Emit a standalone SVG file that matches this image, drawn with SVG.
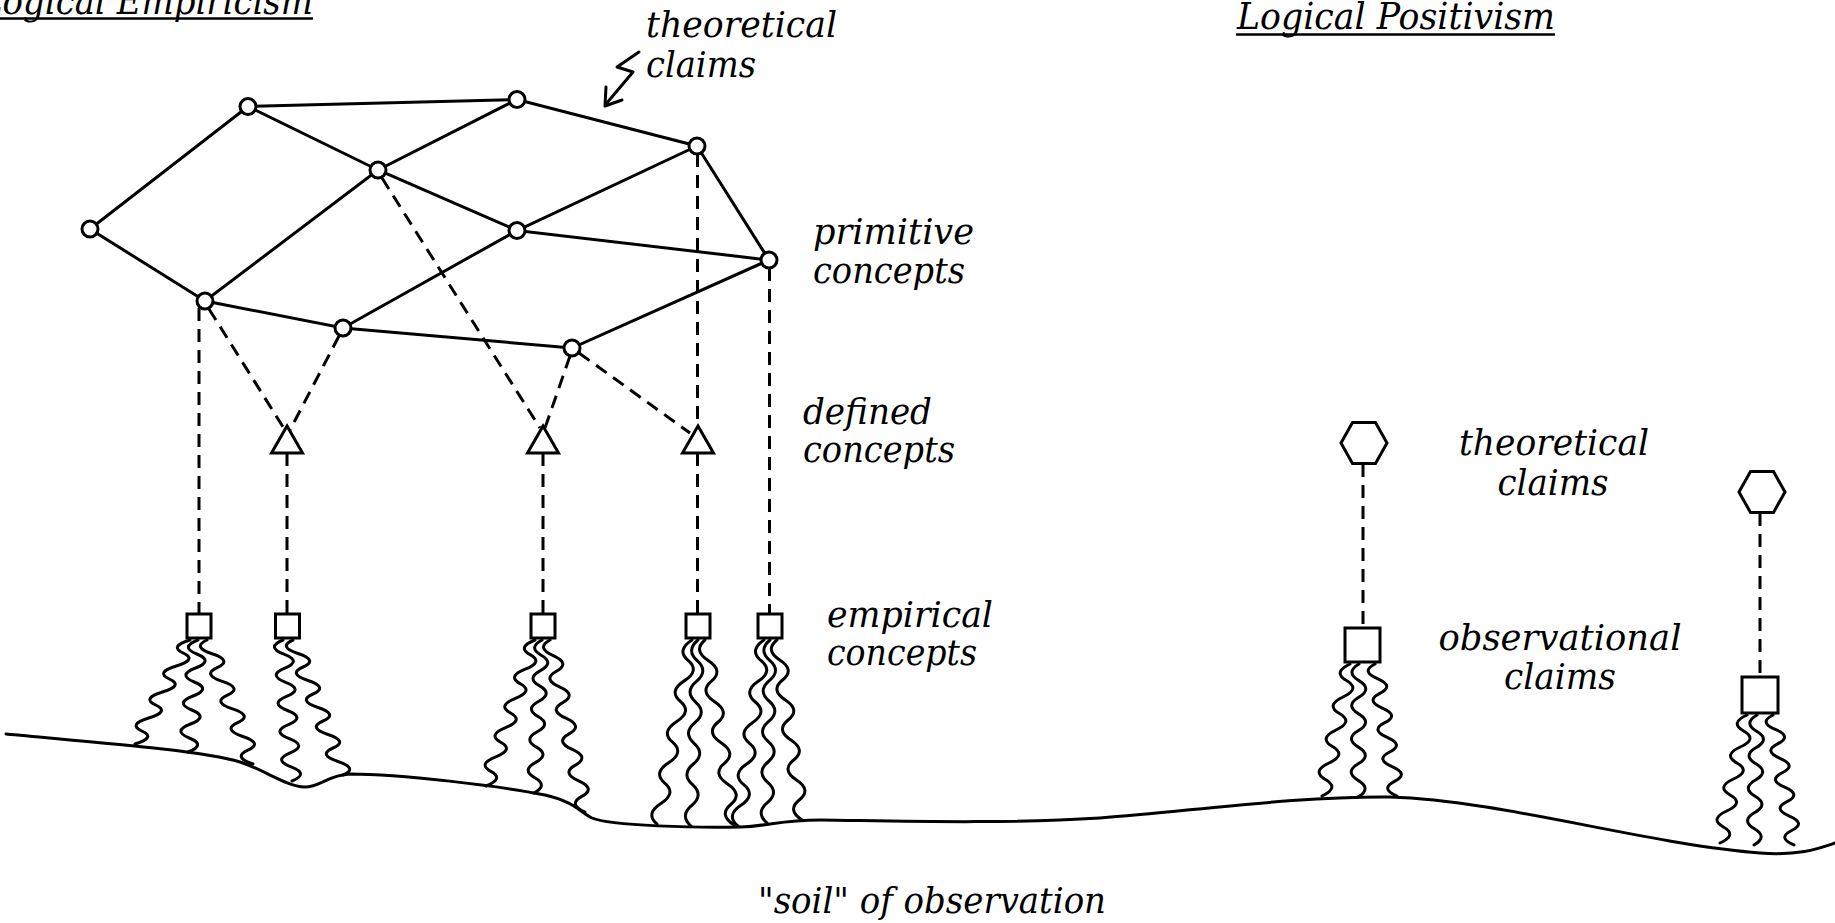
<svg xmlns="http://www.w3.org/2000/svg" width="1835" height="923" viewBox="0 0 1835 923">
<style>
.ln{stroke:#000;stroke-width:3;fill:none;stroke-linecap:round}
.ds{stroke:#000;stroke-width:3;fill:none;stroke-dasharray:13 8}
.rt{stroke:#000;stroke-width:3;fill:none;stroke-linecap:round;stroke-linejoin:round}
.nd{fill:#fff;stroke:#000;stroke-width:3}
.tx{font-family:"DejaVu Serif","Liberation Serif",serif;font-style:italic;font-size:35px;fill:#000}
.tt{font-family:"DejaVu Serif","Liberation Serif",serif;font-style:italic;font-size:38px;fill:#000}
</style>
<rect width="1835" height="923" fill="#fff"/>

<g id="ground">
<path class="rt" stroke-width="3.5" d="M6,734 C90,742 200,750 240,762 C265,770 285,786 305,787 C320,787 328,775 350,774 C400,774 500,786 545,795 C575,802 580,812 592,818 C610,826 700,828 740,827 C770,826 780,820 820,820 C900,821 1000,824 1100,818 C1200,810 1300,796 1390,797 C1500,800 1650,845 1760,853 C1800,856 1820,848 1835,843"/>
</g>

<g id="connectors">
<path class="ln" d="M90,229 L248,106.5 L517,99.5 L697,146 L517,230.5 L378,170 L248,106.5"/>
<path class="ln" d="M517,99.5 L378,170 L205,301 L90,229"/>
<path class="ln" d="M697,146 L769,260 L517,230.5 L343,328 L205,301"/>
<path class="ln" d="M343,328 L572,348 L769,260"/>
<path class="ds" d="M199,308 V614"/>
<path class="ds" d="M287,453 V614"/>
<path class="ds" d="M543,453 V614"/>
<path class="ds" d="M697.5,154 V426"/>
<path class="ds" d="M697.5,453 V614"/>
<path class="ds" d="M769.5,268 V614"/>
<path class="ds" d="M209,309 L285,430"/>
<path class="ds" d="M339,336 L290,430"/>
<path class="ds" d="M382,178 L540,428"/>
<path class="ds" d="M570,356 L545,428"/>
<path class="ds" d="M579,353 L690,433"/>
<path class="ds" d="M1363,464 V628"/>
<path class="ds" d="M1760,513 V677"/>
<path class="rt" d="M639,52 L617,67 L633,72 L606,104"/>
<path class="rt" d="M606,87 L605,106 L622,100"/>
</g>

<g id="roots">
<path class="rt" d="M190,640 q-21.4,6.5 -6.875,13 t-6.875,13 t-6.875,13 t-6.875,13 t-6.875,13 t-6.875,13 t-6.875,13 t-6.875,13"/>
<path class="rt" d="M198,640 q-18.6,7 -1.25,14 t-1.25,14 t-1.25,14 t-1.25,14 t-1.25,14 t-1.25,14 t-1.25,14 t-1.25,14"/>
<path class="rt" d="M207,640 q-15.44,6.89 5.11,13.78 t5.11,13.78 t5.11,13.78 t5.11,13.78 t5.11,13.78 t5.11,13.78 t5.11,13.78 t5.11,13.78 t5.11,13.78"/>
<path class="rt" d="M283,640 q-17.55,7.05 0.9,14.1 t0.9,14.1 t0.9,14.1 t0.9,14.1 t0.9,14.1 t0.9,14.1 t0.9,14.1 t0.9,14.1 t0.9,14.1 t0.9,14.1"/>
<path class="rt" d="M293,640 q-15.5,6.75 5,13.5 t5,13.5 t5,13.5 t5,13.5 t5,13.5 t5,13.5 t5,13.5 t5,13.5 t5,13.5 t5,13.5"/>
<path class="rt" d="M535,640 q-18.45,7.3 -4.9,14.6 t-4.9,14.6 t-4.9,14.6 t-4.9,14.6 t-4.9,14.6 t-4.9,14.6 t-4.9,14.6 t-4.9,14.6 t-4.9,14.6 t-4.9,14.6"/>
<path class="rt" d="M542,640 q-14.4,7.65 -0.8,15.3 t-0.8,15.3 t-0.8,15.3 t-0.8,15.3 t-0.8,15.3 t-0.8,15.3 t-0.8,15.3 t-0.8,15.3 t-0.8,15.3 t-0.8,15.3"/>
<path class="rt" d="M550,640 q-14.41,7.82 3.18,15.64 t3.18,15.64 t3.18,15.64 t3.18,15.64 t3.18,15.64 t3.18,15.64 t3.18,15.64 t3.18,15.64 t3.18,15.64 t3.18,15.64 t3.18,15.64"/>
<path class="rt" d="M692,640 q-15.94,10.22 -3.89,20.44 t-3.89,20.44 t-3.89,20.44 t-3.89,20.44 t-3.89,20.44 t-3.89,20.44 t-3.89,20.44 t-3.89,20.44 t-3.89,20.44"/>
<path class="rt" d="M698,640 q-12.39,10.33 -0.78,20.67 t-0.78,20.67 t-0.78,20.67 t-0.78,20.67 t-0.78,20.67 t-0.78,20.67 t-0.78,20.67 t-0.78,20.67 t-0.78,20.67"/>
<path class="rt" d="M705,640 q-12.39,10.28 3.22,20.56 t3.22,20.56 t3.22,20.56 t3.22,20.56 t3.22,20.56 t3.22,20.56 t3.22,20.56 t3.22,20.56 t3.22,20.56"/>
<path class="rt" d="M764,640 q-15.44,10.33 -2.89,20.67 t-2.89,20.67 t-2.89,20.67 t-2.89,20.67 t-2.89,20.67 t-2.89,20.67 t-2.89,20.67 t-2.89,20.67 t-2.89,20.67"/>
<path class="rt" d="M770,640 q-12.17,10.17 -0.33,20.33 t-0.33,20.33 t-0.33,20.33 t-0.33,20.33 t-0.33,20.33 t-0.33,20.33 t-0.33,20.33 t-0.33,20.33 t-0.33,20.33"/>
<path class="rt" d="M777,640 q-12.61,10 2.78,20 t2.78,20 t2.78,20 t2.78,20 t2.78,20 t2.78,20 t2.78,20 t2.78,20 t2.78,20"/>
<path class="rt" d="M1350,664 q-17.75,8.25 -3.5,16.5 t-3.5,16.5 t-3.5,16.5 t-3.5,16.5 t-3.5,16.5 t-3.5,16.5 t-3.5,16.5 t-3.5,16.5"/>
<path class="rt" d="M1359,664 q-14.06,8.31 -0.125,16.625 t-0.125,16.625 t-0.125,16.625 t-0.125,16.625 t-0.125,16.625 t-0.125,16.625 t-0.125,16.625 t-0.125,16.625"/>
<path class="rt" d="M1375,664 q-14.78,7.33 2.44,14.67 t2.44,14.67 t2.44,14.67 t2.44,14.67 t2.44,14.67 t2.44,14.67 t2.44,14.67 t2.44,14.67 t2.44,14.67"/>
<path class="rt" d="M1747,715 q-17.69,8 -3.375,16 t-3.375,16 t-3.375,16 t-3.375,16 t-3.375,16 t-3.375,16 t-3.375,16 t-3.375,16"/>
<path class="rt" d="M1757,715 q-14.19,8.125 -0.375,16.25 t-0.375,16.25 t-0.375,16.25 t-0.375,16.25 t-0.375,16.25 t-0.375,16.25 t-0.375,16.25 t-0.375,16.25"/>
<path class="rt" d="M1773,715 q-14.83,7.22 2.33,14.44 t2.33,14.44 t2.33,14.44 t2.33,14.44 t2.33,14.44 t2.33,14.44 t2.33,14.44 t2.33,14.44 t2.33,14.44"/>
</g>

<g id="primitive-nodes">
<circle id="pA" class="nd" cx="90" cy="229" r="8"/>
<circle id="pB" class="nd" cx="248" cy="106.5" r="8"/>
<circle id="pC" class="nd" cx="517" cy="99.5" r="8"/>
<circle id="pD" class="nd" cx="697" cy="146" r="8"/>
<circle id="pE" class="nd" cx="378" cy="170" r="8"/>
<circle id="pF" class="nd" cx="517" cy="230.5" r="8"/>
<circle id="pG" class="nd" cx="769" cy="260" r="8"/>
<circle id="pH" class="nd" cx="205" cy="301" r="8"/>
<circle id="pI" class="nd" cx="343" cy="328" r="8"/>
<circle id="pJ" class="nd" cx="572" cy="348" r="8"/>
</g>
<g id="defined-nodes">
<polygon id="t1" class="nd" points="287,426 302.5,453 271.5,453"/>
<polygon id="t2" class="nd" points="543,426 558.5,453 527.5,453"/>
<polygon id="t3" class="nd" points="698,426 713.5,453 682.5,453"/>
</g>
<g id="empirical-nodes">
<rect id="s1" class="nd" x="187" y="614" width="24" height="24"/>
<rect id="s2" class="nd" x="275.5" y="614" width="24" height="24"/>
<rect id="s3" class="nd" x="531" y="614" width="24" height="24"/>
<rect id="s4" class="nd" x="686" y="614" width="24" height="24"/>
<rect id="s5" class="nd" x="758" y="614" width="24" height="24"/>
</g>
<g id="positivism-nodes">
<polygon id="h1" class="nd" points="1341,443 1352.5,422.5 1375.5,422.5 1387,443 1375.5,463.5 1352.5,463.5"/>
<polygon id="h2" class="nd" points="1739,492 1750.5,471.5 1773.5,471.5 1785,492 1773.5,512.5 1750.5,512.5"/>
<rect id="o1" class="nd" x="1345" y="628" width="35" height="34"/>
<rect id="o2" class="nd" x="1742" y="677" width="36" height="36"/>
</g>

<g id="labels">
<text class="tt" x="-20" y="14" textLength="333" lengthAdjust="spacingAndGlyphs">Logical Empiricism</text>
<line x1="0" y1="18.5" x2="313" y2="18.5" stroke="#000" stroke-width="2.5"/>
<text class="tt" x="1237" y="29" textLength="318" lengthAdjust="spacingAndGlyphs">Logical Positivism</text>
<line x1="1236" y1="34.5" x2="1555" y2="34.5" stroke="#000" stroke-width="2.5"/>
<text class="tx" x="646" y="37" textLength="191" lengthAdjust="spacingAndGlyphs">theoretical</text>
<text class="tx" x="646" y="77" textLength="110" lengthAdjust="spacingAndGlyphs">claims</text>
<text class="tx" x="813" y="244" textLength="161" lengthAdjust="spacingAndGlyphs">primitive</text>
<text class="tx" x="813" y="283" textLength="152" lengthAdjust="spacingAndGlyphs">concepts</text>
<text class="tx" x="803" y="424" textLength="129" lengthAdjust="spacingAndGlyphs">defined</text>
<text class="tx" x="803" y="462" textLength="152" lengthAdjust="spacingAndGlyphs">concepts</text>
<text class="tx" x="827" y="627" textLength="166" lengthAdjust="spacingAndGlyphs">empirical</text>
<text class="tx" x="827" y="665" textLength="150" lengthAdjust="spacingAndGlyphs">concepts</text>
<text class="tx" x="1554" y="455" text-anchor="middle" textLength="190" lengthAdjust="spacingAndGlyphs">theoretical</text>
<text class="tx" x="1553" y="495" text-anchor="middle" textLength="111" lengthAdjust="spacingAndGlyphs">claims</text>
<text class="tx" x="1560" y="650" text-anchor="middle" textLength="243" lengthAdjust="spacingAndGlyphs">observational</text>
<text class="tx" x="1560" y="689" text-anchor="middle" textLength="112" lengthAdjust="spacingAndGlyphs">claims</text>
<text class="tx" x="758" y="913" textLength="348" lengthAdjust="spacingAndGlyphs">"soil" of observation</text>
</g>
</svg>
